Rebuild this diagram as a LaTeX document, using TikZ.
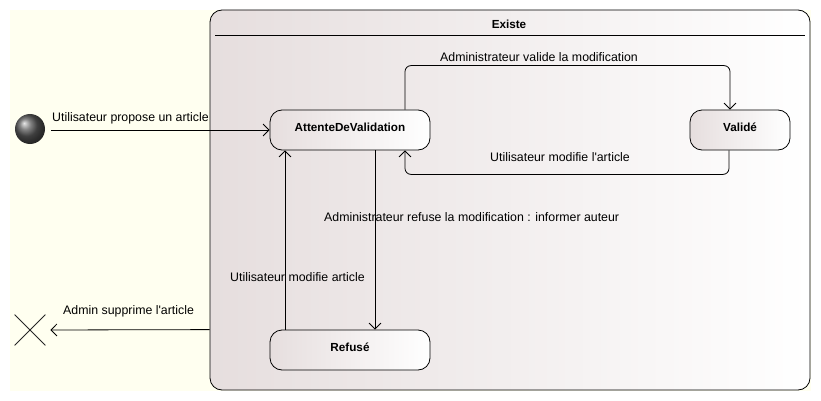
\documentclass[tikz,border=0pt]{standalone}
\usepackage{fontspec}
\setmainfont{Liberation Sans}
\usetikzlibrary{arrows.meta,shapes.misc,calc}
\definecolor{bgyellow}{RGB}{255,255,240}
\definecolor{statel}{RGB}{230,222,222}
\newcommand{\fsz}{\fontsize{12.35}{14}\selectfont}
\newcommand{\bsz}{\bfseries\fontsize{11.7}{14}\selectfont}
\tikzset{
  stateshape/.style={draw, line width=0.8pt, rounded corners=12pt, left color=statel, right color=white,
    minimum height=40pt, inner sep=0pt, font=\bsz},
  arr/.style={draw, line width=0.8pt, -{Straight Barb[length=6pt,width=12pt,line width=0.8pt]}},
  lbl/.style={anchor=west, inner sep=0pt, font=\fsz}
}
\begin{document}
\begin{tikzpicture}[x=1pt,y=-1pt, font=\fsz]
\useasboundingbox (0,0) rectangle (821,401);
\fill[bgyellow] (10,10) rectangle (811,391);
% composite state
\node[draw, line width=0.8pt, rounded corners=12pt, left color=statel, right color=white,
  minimum width=600pt, minimum height=380pt, inner sep=0pt] (exist) at (510,200) {};
\node[font=\bsz] (existt) at (509,24) {Existe};
\draw[line width=0.8pt] (215,35) -- (805,35);
% states
\node[stateshape, minimum width=160pt] (att) at (350,130) {\raisebox{5pt}{AttenteDeValidation}};
\node[stateshape, minimum width=100pt] (val) at (740,130) {\raisebox{5pt}{Validé}};
\node[stateshape, minimum width=160pt] (ref) at (350,350) {\raisebox{5pt}{Refusé}};
% initial and final
\node[circle, minimum size=30pt, inner sep=0pt, shading=ball, ball color=black!65] (init) at (30,129) {};
\node[cross out, draw=black!85, line width=0.8pt, minimum size=30pt, inner sep=0pt] (fin) at (30,330) {};
% transitions
\draw[arr, shorten <=6pt] (init.east |- att.west) -- (att.west);
\draw[arr, rounded corners=6pt] ([xshift=55pt]att.north) |- ($(val.north)+(-10,-44)$) -- ([xshift=-10pt]val.north);
\draw[arr, rounded corners=6pt] ([xshift=-11pt]val.south) -- ++(0,24) -| ([xshift=55pt]att.south);
\draw[arr] ([xshift=25pt]att.south) -- ([xshift=25pt]ref.north);
\draw[arr] ([xshift=-65pt]ref.north) -- ([xshift=-65pt]att.south);
\draw[arr, shorten >=5pt] (exist.west |- ref.north) -- (fin.east);
% labels
\node[lbl] (l1) at (52,118) {Utilisateur propose un article};
\node[lbl] (l2) at (440,57) {Administrateur valide la modification};
\node[lbl] (l3) at (490,157) {Utilisateur modifie l\textquotesingle article};
\node[lbl] (l4) at (324,217) {Administrateur refuse la modification : informer auteur};
\node[lbl] (l5) at (230,277) {Utilisateur modifie article};
\node[lbl] (l6) at (63,311) {Admin supprime l\textquotesingle article};
\end{tikzpicture}
\end{document}
